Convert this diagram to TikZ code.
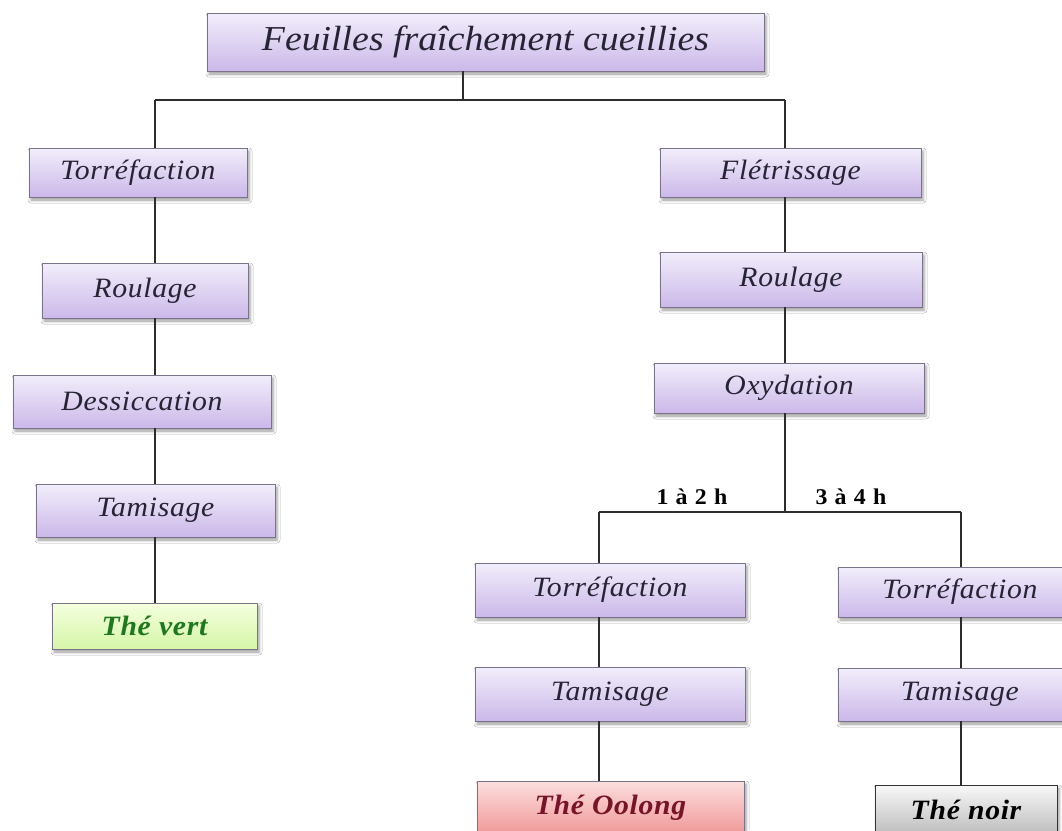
\documentclass[tikz,border=0pt]{standalone}
\usepackage{fontspec}
\setmainfont{Liberation Serif}
\newfontfamily\boxfont[LetterSpace=2.5,FakeStretch=1.06]{Liberation Serif}
\newfontfamily\rootfont[FakeStretch=1.08]{Liberation Serif}
\newfontfamily\lblfont[LetterSpace=6,FakeStretch=1.06]{Liberation Serif}
\usetikzlibrary{shadows.blur}
\definecolor{boxtop}{RGB}{242,238,251}
\definecolor{boxbot}{RGB}{203,184,233}
\definecolor{boxedge}{RGB}{122,114,136}
\definecolor{boxtext}{RGB}{38,36,52}
\definecolor{linec}{RGB}{45,45,45}
\definecolor{vertop}{RGB}{244,255,222}
\definecolor{verbot}{RGB}{214,246,168}
\definecolor{vertxt}{RGB}{30,120,30}
\definecolor{oolongtop}{RGB}{252,222,222}
\definecolor{oolongbot}{RGB}{240,150,150}
\definecolor{oolongtxt}{RGB}{120,20,40}
\definecolor{noirtop}{RGB}{248,248,248}
\definecolor{noirbot}{RGB}{188,188,188}
\tikzset{
  stage/.style={draw=boxedge, line width=0.9pt, top color=boxtop, bottom color=boxbot,
    inner sep=0pt, text=boxtext,
    font=\boxfont\itshape\fontsize{28}{30}\selectfont,
    blur shadow={shadow xshift=2pt, shadow yshift=-3pt, shadow blur radius=3pt, shadow opacity=40}},
  rootbox/.style={stage, font=\rootfont\itshape\fontsize{35}{40}\selectfont},
  result/.style={stage, font=\boxfont\bfseries\itshape\fontsize{28}{30}\selectfont},
  vert/.style={result, top color=vertop, bottom color=verbot, text=vertxt},
  oolong/.style={result, top color=oolongtop, bottom color=oolongbot, text=oolongtxt},
  noir/.style={result, draw=black!80, top color=noirtop, bottom color=noirbot, text=black},
  lbl/.style={font=\lblfont\bfseries\fontsize{22.5}{24}\selectfont, anchor=base, inner sep=0pt},
  link/.style={draw=linec, line width=1.2pt}
}
\begin{document}
\begin{tikzpicture}[x=1pt,y=-1pt]
\useasboundingbox[fill=white] (0,0) rectangle (1062,830);
\clip (0,0) rectangle (1062,830);

% root
\node[rootbox, minimum width=557pt, minimum height=58pt] (top) at (485.5,42) {Feuilles fraîchement cueillies};

% left column
\node[stage, minimum width=218pt, minimum height=49pt] (l1) at (138,172.5) {Torréfaction};
\node[stage, minimum width=206pt, minimum height=55pt] (l2) at (145,290.5) {Roulage};
\node[stage, minimum width=258pt, minimum height=53pt] (l3) at (142,401.5) {Dessiccation};
\node[stage, minimum width=239pt, minimum height=53pt] (l4) at (155.5,510.5) {Tamisage};
\node[vert, minimum width=205pt, minimum height=46pt] (l5) at (154.5,626) {Thé vert};

% right column
\node[stage, minimum width=261pt, minimum height=49pt] (r1) at (790.5,172.5) {Flétrissage};
\node[stage, minimum width=262pt, minimum height=55pt] (r2) at (791,279.5) {Roulage};
\node[stage, minimum width=270pt, minimum height=50pt] (r3) at (789,388) {Oxydation};

% oolong branch
\node[stage, minimum width=270pt, minimum height=54pt] (o1) at (610,590) {Torréfaction};
\node[stage, minimum width=270pt, minimum height=54pt] (o2) at (610,694) {Tamisage};
\node[oolong, minimum width=267pt, minimum height=54pt] (o3) at (610.5,808) {Thé Oolong};

% noir branch
\node[stage, minimum width=244pt, minimum height=50pt] (n1) at (960,592) {Torréfaction};
\node[stage, minimum width=244pt, minimum height=53pt] (n2) at (960,694.5) {Tamisage};
\node[noir, minimum width=182pt, minimum height=50pt] (n3) at (966,810) {Thé noir};

% labels
\node[lbl] (t12) at (692,504) {1 à 2 h};
\node[lbl] (t34) at (851,504) {3 à 4 h};

% junction coordinates
\coordinate (jt) at (463,100);
\coordinate (cl) at (155,100);
\coordinate (cr) at (785,100);
\coordinate (jo) at (785,512);
\coordinate (bo) at (599,512);
\coordinate (bn) at (961,512);

% connectors
\draw[link] (top.south -| jt) -- (jt);
\draw[link] (cl) -- (cr);
\draw[link] (cl) -- (l1.north -| cl);
\draw[link] (l1.south -| cl) -- (l2.north -| cl);
\draw[link] (l2.south -| cl) -- (l3.north -| cl);
\draw[link] (l3.south -| cl) -- (l4.north -| cl);
\draw[link] (l4.south -| cl) -- (l5.north -| cl);

\draw[link] (cr) -- (r1.north -| cr);
\draw[link] (r1.south -| cr) -- (r2.north -| cr);
\draw[link] (r2.south -| cr) -- (r3.north -| cr);
\draw[link] (r3.south -| cr) -- (jo);
\draw[link] (bo) -- (bn);

\draw[link] (bo) -- (o1.north -| bo);
\draw[link] (o1.south -| bo) -- (o2.north -| bo);
\draw[link] (o2.south -| bo) -- (o3.north -| bo);

\draw[link] (bn) -- (n1.north -| bn);
\draw[link] (n1.south -| bn) -- (n2.north -| bn);
\draw[link] (n2.south -| bn) -- (n3.north -| bn);
\end{tikzpicture}
\end{document}
